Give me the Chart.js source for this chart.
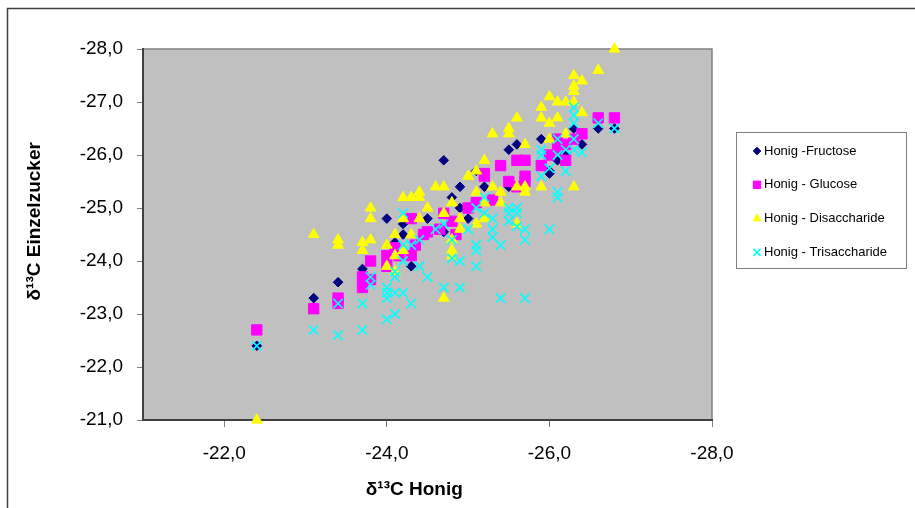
<!DOCTYPE html>
<html>
<head>
<meta charset="utf-8">
<script src="https://cdn.jsdelivr.net/npm/chart.js@4/dist/chart.umd.min.js"></script>
<style>
  html, body { margin: 0; padding: 0; background: #fff; }
  #wrap { width: 915px; height: 508px; }
</style>
</head>
<body>
<div id="wrap"><canvas id="honigChart" width="915" height="508"></canvas></div>
<script>
// values: [delta13C Honig, delta13C Einzelzucker]
const fructose = [
  [-22.4,-22.4],[-23.1,-23.3],[-23.4,-23.6],[-23.7,-23.85],[-24.0,-24.8],[-24.1,-24.35],
  [-24.1,-24.2],[-24.2,-24.5],[-24.2,-24.7],[-24.3,-23.9],[-24.5,-24.8],[-24.7,-25.9],
  [-24.7,-24.55],[-24.8,-25.2],[-24.9,-25.4],[-24.9,-25.0],[-25.0,-24.8],[-25.2,-25.4],
  [-25.1,-25.7],[-25.5,-26.1],[-25.6,-26.2],[-25.5,-25.4],[-25.9,-26.3],[-26.0,-25.7],
  [-26.0,-25.65],[-26.1,-25.9],[-26.2,-26.0],[-26.3,-26.5],[-26.4,-26.2],[-26.6,-26.5],
  [-26.8,-26.5]
];
const glucose = [
  [-22.4,-22.7],[-23.1,-23.1],[-23.4,-23.3],[-23.4,-23.2],[-23.7,-23.7],[-23.7,-23.5],
  [-23.8,-24.0],[-23.8,-23.65],[-24.0,-24.1],[-24.0,-23.9],[-24.1,-24.25],[-24.15,-24.1],
  [-24.3,-24.1],[-24.35,-24.3],[-24.3,-24.8],[-24.45,-24.5],[-24.5,-24.55],[-24.65,-24.6],
  [-24.7,-24.9],[-24.8,-24.75],[-24.85,-24.5],[-25.0,-25.0],[-25.1,-25.1],[-25.3,-25.15],
  [-25.2,-25.65],[-25.2,-25.6],[-25.4,-25.8],[-25.6,-25.9],[-25.7,-25.9],[-25.7,-25.6],
  [-25.6,-25.4],[-25.7,-25.5],[-25.5,-25.5],[-25.9,-25.8],[-26.0,-26.0],[-26.1,-26.1],
  [-26.2,-26.2],[-26.3,-26.3],[-26.4,-26.4],[-26.2,-25.9],[-26.1,-26.3],[-26.6,-26.7],
  [-26.8,-26.7]
];
const disaccharide = [
  [-22.4,-21.0],[-23.1,-24.5],[-23.4,-24.4],[-23.4,-24.3],[-23.7,-24.35],[-23.7,-24.2],
  [-23.8,-25.0],[-23.8,-24.8],[-23.8,-24.4],[-24.0,-24.3],[-24.0,-23.9],[-24.1,-24.5],
  [-24.1,-24.1],[-24.1,-23.8],[-24.2,-25.2],[-24.2,-24.8],[-24.2,-24.2],[-24.3,-25.2],
  [-24.3,-24.5],[-24.4,-25.3],[-24.4,-25.2],[-24.4,-24.8],[-24.5,-25.0],[-24.6,-25.4],
  [-24.7,-25.4],[-24.7,-24.9],[-24.7,-23.3],[-24.8,-25.1],[-24.8,-24.4],[-24.8,-24.2],
  [-24.8,-24.1],[-24.9,-24.8],[-24.9,-24.6],[-25.0,-25.6],[-25.1,-25.7],[-25.1,-25.3],
  [-25.1,-24.7],[-25.2,-25.9],[-25.2,-25.1],[-25.2,-24.8],[-25.3,-26.4],[-25.3,-25.4],
  [-25.4,-25.3],[-25.4,-25.1],[-25.5,-26.5],[-25.5,-26.4],[-25.6,-26.7],[-25.6,-25.4],
  [-25.6,-24.7],[-25.7,-26.2],[-25.7,-25.4],[-25.7,-25.3],[-25.9,-26.9],[-25.9,-26.7],
  [-25.9,-25.4],[-26.0,-27.1],[-26.0,-26.6],[-26.0,-26.3],[-26.1,-27.0],[-26.1,-26.7],
  [-26.2,-27.0],[-26.2,-26.4],[-26.3,-27.5],[-26.3,-27.3],[-26.3,-27.2],[-26.3,-27.0],
  [-26.3,-25.4],[-26.4,-27.4],[-26.4,-26.8],[-26.6,-27.6],[-26.8,-28.0]
];
const trisaccharide = [
  [-22.4,-22.4],[-23.1,-22.7],[-23.4,-22.6],[-23.4,-23.2],[-23.7,-22.7],[-23.7,-23.2],
  [-23.8,-23.7],[-23.8,-23.55],[-24.0,-22.9],[-24.0,-23.3],[-24.0,-23.5],[-24.0,-23.4],
  [-24.1,-23.0],[-24.1,-23.4],[-24.1,-23.7],[-24.1,-23.8],[-24.2,-23.4],[-24.2,-24.0],
  [-24.2,-24.3],[-24.2,-24.9],[-24.3,-23.2],[-24.3,-24.3],[-24.4,-23.9],[-24.4,-24.4],
  [-24.5,-23.7],[-24.6,-24.6],[-24.7,-24.7],[-24.7,-23.5],[-24.8,-24.4],[-24.8,-24.05],
  [-24.9,-24.0],[-24.9,-23.5],[-25.0,-24.6],[-25.1,-25.0],[-25.1,-24.3],[-25.1,-24.2],
  [-25.1,-23.9],[-25.2,-25.2],[-25.2,-24.9],[-25.3,-24.8],[-25.3,-24.6],[-25.3,-24.45],
  [-25.4,-24.3],[-25.4,-23.3],[-25.5,-25.0],[-25.5,-24.9],[-25.5,-24.75],[-25.6,-25.0],
  [-25.6,-24.9],[-25.6,-24.65],[-25.7,-24.6],[-25.7,-24.4],[-25.7,-23.3],[-25.9,-26.1],
  [-25.9,-26.0],[-25.9,-25.6],[-26.0,-25.75],[-26.0,-24.6],[-26.1,-26.3],[-26.1,-26.0],
  [-26.1,-25.3],[-26.1,-25.2],[-26.2,-26.1],[-26.2,-25.7],[-26.3,-26.9],[-26.3,-26.75],
  [-26.3,-26.6],[-26.3,-26.3],[-26.3,-26.1],[-26.4,-26.05],[-26.6,-26.6],[-26.8,-26.5]
];

const seriesNames = ['Honig -Fructose', 'Honig - Glucose', 'Honig - Disaccharide', 'Honig - Trisaccharide'];
const xTicks = [-22, -24, -26, -28];
const yTicks = [-28, -27, -26, -25, -24, -23, -22, -21];

const FONT = '"Liberation Sans", Arial, sans-serif';
const toXY = arr => arr.map(p => ({ x: p[0], y: p[1] }));
const fmt = v => v.toFixed(1).replace('.', ',');

// white page, outer frame, grey plot area
const backdrop = {
  id: 'backdrop',
  beforeDraw(chart) {
    const { ctx, chartArea: a } = chart;
    ctx.save();
    ctx.fillStyle = '#fff';
    ctx.fillRect(0, 0, chart.width, chart.height);
    ctx.strokeStyle = '#404040';
    ctx.lineWidth = 1.5;
    ctx.beginPath();
    ctx.moveTo(7.5, chart.height);
    ctx.lineTo(7.5, 8.5);
    ctx.lineTo(chart.width, 8.5);
    ctx.stroke();
    ctx.fillStyle = '#c0c0c0';
    ctx.fillRect(a.left, a.top, a.right - a.left, a.bottom - a.top);
    ctx.strokeStyle = '#808080';
    ctx.lineWidth = 1.5;
    ctx.beginPath();
    ctx.moveTo(a.left, a.top);
    ctx.lineTo(a.right, a.top);
    ctx.lineTo(a.right, a.bottom);
    ctx.stroke();
    ctx.restore();
  }
};

// boxed legend on the right
const legendMarkerSize = [3.8, 5.2, 4.6, 5];
const boxLegend = {
  id: 'boxLegend',
  afterDraw(chart) {
    const ctx = chart.ctx;
    ctx.save();
    ctx.fillStyle = '#fff';
    ctx.fillRect(736, 132, 170, 136);
    ctx.strokeStyle = '#808080';
    ctx.lineWidth = 1;
    ctx.strokeRect(736.5, 132.5, 170, 136);
    chart.data.datasets.forEach((ds, i) => {
      const y = 151 + i * 33.8;
      ctx.fillStyle = ds.backgroundColor;
      ctx.strokeStyle = ds.borderColor;
      ctx.lineWidth = ds.borderWidth;
      Chart.helpers.drawPoint(ctx, {
        pointStyle: ds.pointStyle, radius: legendMarkerSize[i], rotation: 0, borderWidth: ds.borderWidth
      }, 757, y);
      ctx.fillStyle = '#000';
      ctx.font = '13px ' + FONT;
      ctx.textAlign = 'left';
      ctx.textBaseline = 'middle';
      ctx.fillText(ds.label, 764, y);
    });
    ctx.restore();
  }
};

new Chart(document.getElementById('honigChart'), {
  type: 'scatter',
  data: {
    datasets: [
      {
        label: seriesNames[0], data: toXY(fructose), pointStyle: 'rectRot', pointRadius: 4.8,
        backgroundColor: '#000080', borderColor: '#000080', borderWidth: 1, order: 4, clip: false
      },
      {
        label: seriesNames[1], data: toXY(glucose), pointStyle: 'rect', pointRadius: 7.3,
        backgroundColor: '#ff00ff', borderColor: '#ff00ff', borderWidth: 1, order: 3, clip: false
      },
      {
        label: seriesNames[2], data: toXY(disaccharide), pointStyle: 'triangle', pointRadius: 6.2,
        backgroundColor: '#ffff00', borderColor: '#ffff00', borderWidth: 1, order: 2, clip: false
      },
      {
        label: seriesNames[3], data: toXY(trisaccharide), pointStyle: 'crossRot', pointRadius: 6.6,
        backgroundColor: '#00ffff', borderColor: '#00ffff', borderWidth: 1.6, order: 1, clip: false
      }
    ]
  },
  options: {
    responsive: false,
    animation: false,
    events: [],
    layout: { padding: { left: 8, top: 49, right: 203, bottom: 0 } },
    scales: {
      x: {
        type: 'linear', min: -28, max: -21, reverse: true,
        afterBuildTicks: s => { s.ticks = xTicks.map(v => ({ value: v })); },
        afterFit: s => { s.height = 88; },
        grid: { drawOnChartArea: false, color: '#808080', tickLength: 7 },
        border: { color: '#404040', width: 2 },
        ticks: { color: '#000', padding: 15, font: { family: FONT, size: 19 }, callback: v => fmt(v) },
        title: {
          display: true, text: 'δ¹³C Honig     ', color: '#000',
          font: { family: FONT, size: 19, weight: 'bold' }, padding: { top: 0, bottom: 7 }
        }
      },
      y: {
        type: 'linear', min: -28, max: -21, reverse: true,
        afterBuildTicks: s => { s.ticks = yTicks.map(v => ({ value: v })); },
        afterFit: s => { s.width = 135; },
        grid: { drawOnChartArea: false, color: '#808080', tickLength: 6 },
        border: { color: '#404040', width: 2 },
        ticks: { color: '#000', padding: 14, font: { family: FONT, size: 19 }, callback: v => fmt(v) },
        title: {
          display: true, text: '     δ¹³C Einzelzucker', color: '#000',
          font: { family: FONT, size: 19, weight: 'bold' }, padding: { top: 15, bottom: 0 }
        }
      }
    },
    plugins: {
      legend: { display: false },
      tooltip: { enabled: false }
    }
  },
  plugins: [backdrop, boxLegend]
});
</script>
</body>
</html>
